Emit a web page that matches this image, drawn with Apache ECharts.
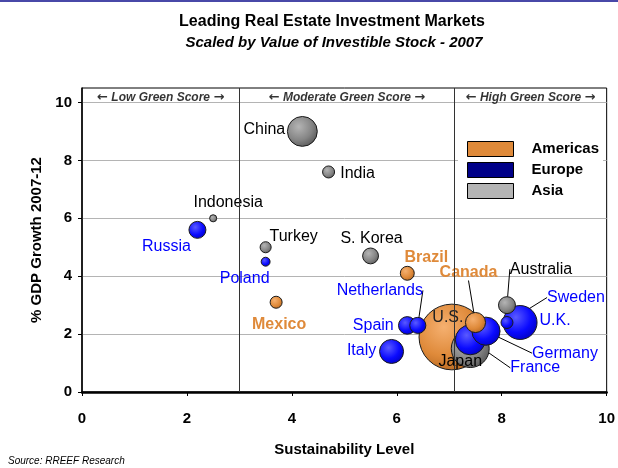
<!DOCTYPE html>
<html lang="en">
<head>
    <meta charset="UTF-8" />
    <title>Leading Real Estate Investment Markets</title>
    <script src="https://cdn.jsdelivr.net/npm/echarts@6/dist/echarts.min.js"></script>
    <style>
        body { margin: 0; background: #fff; }
        #chart { width: 618px; height: 468px; }
    </style>
</head>
<body>
    <div id="chart"></div>
    <script>
        // data
        const countries = ['U.S.', 'Canada', 'Brazil', 'Mexico', 'U.K.', 'Germany', 'France', 'Italy', 'Spain',
            'Netherlands', 'Sweden', 'Russia', 'Poland', 'Japan', 'China', 'Australia', 'S. Korea', 'India',
            'Turkey', 'Indonesia'];
        const regions = ['Americas', 'Americas', 'Americas', 'Americas', 'Europe', 'Europe', 'Europe', 'Europe',
            'Europe', 'Europe', 'Europe', 'Europe', 'Europe', 'Asia', 'Asia', 'Asia', 'Asia', 'Asia', 'Asia', 'Asia'];
        const sustainability = [7.05, 7.5, 6.2, 3.7, 8.35, 7.7, 7.4, 5.9, 6.2, 6.4, 8.1, 2.2, 3.5, 7.4, 4.2, 8.1, 5.5, 4.7, 3.5, 2.5];
        const gdpGrowth = [1.9, 2.4, 4.1, 3.1, 2.4, 2.1, 1.8, 1.4, 2.3, 2.3, 2.4, 5.6, 4.5, 1.5, 9.0, 3.0, 4.7, 7.6, 5.0, 6.0];
        const stockValue = [3000, 280, 135, 100, 800, 550, 620, 400, 215, 180, 100, 200, 55, 1000, 620, 200, 175, 100, 85, 35];

        const legendNames = ['Americas', 'Europe', 'Asia'];
        const zoneBounds = [0, 3, 7.1, 10];
        const zoneNames = ['Low Green Score', 'Moderate Green Score', 'High Green Score'];
        const xTicks = [0, 2, 4, 6, 8, 10];
        const yTicks = [0, 2, 4, 6, 8, 10];

        // styling
        const font = 'Liberation Sans, Arial, sans-serif';
        const regionStyle = {
            Americas: { stops: ['#f5b070', '#df8a3a', '#b46620'], swatch: '#df8a3a', label: '#df8a3a', bold: true },
            Europe: { stops: ['#5a5aff', '#0a0aff', '#0000c0'], swatch: '#000088', label: '#0000ff', bold: false },
            Asia: { stops: ['#b4b4b4', '#858585', '#555555'], swatch: '#b4b4b4', label: '#000', bold: false }
        };
        // label offsets from bubble centre (px), and which ones get a leader line
        const labelPlace = {
            'China': [-38, -2], 'India': [29, 2], 'Indonesia': [15, -16], 'Russia': [-31, 17],
            'Turkey': [28, -11], 'Poland': [-21, 17], 'Mexico': [3, 22], 'S. Korea': [1, -17],
            'Brazil': [19, -16], 'Netherlands': [-38, -35], 'Spain': [-34, 0], 'Italy': [-30, -1],
            'U.S.': [-4, -19], 'Canada': [-7, -50], 'Japan': [-10, 13], 'France': [65, 28],
            'Germany': [79, 22], 'U.K.': [35, -2], 'Sweden': [69, -25], 'Australia': [34, -36]
        };
        const leaders = ['Netherlands', 'Canada', 'France', 'Germany', 'Sweden', 'Australia'];

        const bubbleSize = v => 1.2 * Math.sqrt(v);

        // biggest first so the small ones sit on top
        const order = countries.map((c, i) => i).sort((a, b) => stockValue[b] - stockValue[a]);

        const bubbleSeries = order.map(i => {
            const name = countries[i];
            const st = regionStyle[regions[i]];
            const off = labelPlace[name];
            const usLike = name === 'U.S.';
            return {
                name: regions[i],
                type: 'scatter',
                data: [[sustainability[i], gdpGrowth[i], stockValue[i], name]],
                symbolSize: d => bubbleSize(d[2]),
                itemStyle: {
                    color: {
                        type: 'radial', x: 0.38, y: 0.35, r: 0.72,
                        colorStops: [
                            { offset: 0, color: st.stops[0] },
                            { offset: 0.6, color: st.stops[1] },
                            { offset: 1, color: st.stops[2] }
                        ]
                    },
                    borderColor: '#1a1a1a',
                    borderWidth: 1,
                    opacity: 1
                },
                label: {
                    show: true,
                    position: 'inside',
                    formatter: name,
                    fontFamily: font,
                    fontSize: 16,
                    fontWeight: (st.bold && !usLike) ? 'bold' : 'normal',
                    color: usLike ? '#222' : st.label,
                    textBorderWidth: 0
                },
                labelLayout: { dx: off[0], dy: off[1] },
                labelLine: {
                    show: leaders.includes(name),
                    lineStyle: { color: '#000', width: 1 }
                },
                emphasis: { disabled: true }
            };
        });

        const zoneSeries = {
            name: 'zones',
            type: 'scatter',
            silent: true,
            symbolSize: 0,
            data: zoneNames.map((z, i) => [(zoneBounds[i] + zoneBounds[i + 1]) / 2, 10.18, z]),
            label: {
                show: true,
                position: 'inside',
                formatter: p => '{a|\u2190} ' + p.data[2] + ' {a|\u2192}',
                fontFamily: font,
                fontSize: 12,
                fontWeight: 'bold',
                fontStyle: 'italic',
                color: '#000',
                rich: {
                    a: { fontFamily: 'DejaVu Sans', fontSize: 13, fontWeight: 'bold', color: '#000' }
                }
            },
            markLine: {
                silent: true,
                symbol: 'none',
                label: { show: false },
                lineStyle: { color: '#333', width: 1, type: 'solid' },
                data: zoneBounds.slice(1, -1).map(b => ({ xAxis: b }))
            },
            z: 1
        };

        const chart = echarts.init(document.getElementById('chart'));
        chart.setOption({
            animation: false,
            backgroundColor: '#fff',
            title: [
                {
                    text: 'Leading Real Estate Investment Markets',
                    left: 327, top: 9, textAlign: 'center',
                    textStyle: { fontFamily: font, fontSize: 16, fontWeight: 'bold', color: '#000' }
                },
                {
                    text: 'Scaled by Value of Investible Stock - 2007',
                    left: 329, top: 30, textAlign: 'center',
                    textStyle: { fontFamily: font, fontSize: 15, fontWeight: 'bold', fontStyle: 'italic', color: '#000' }
                }
            ],
            graphic: [
                { type: 'rect', left: 0, top: 0, shape: { width: 618, height: 2 }, style: { fill: '#4848a8' } },
                {
                    type: 'text', left: 8, top: 456,
                    style: { text: 'Source: RREEF Research', font: 'italic 10px ' + font, fill: '#000' }
                }
            ],
            legend: {
                data: legendNames.map(n => ({
                    name: n,
                    itemStyle: { color: regionStyle[n].swatch, borderColor: '#000', borderWidth: 1 }
                })),
                orient: 'vertical',
                left: 458, top: 133,
                padding: [8, 4, 8, 9],
                backgroundColor: '#fff',
                icon: 'rect',
                itemWidth: 46, itemHeight: 15, itemGap: 5,
                selectedMode: false,
                textStyle: { fontFamily: font, fontSize: 15, fontWeight: 'bold', color: '#000', padding: [0, 0, 0, 13] }
            },
            grid: {
                left: 82, right: 11, top: 88, bottom: 76,
                show: true, borderColor: '#000', borderWidth: 1
            },
            xAxis: {
                type: 'value', min: 0, max: 10, interval: 2,
                name: 'Sustainability Level', nameLocation: 'middle', nameGap: 50,
                nameTextStyle: { fontFamily: font, fontSize: 15, fontWeight: 'bold', color: '#000' },
                axisLine: { lineStyle: { color: '#000', width: 2.5 } },
                axisTick: { show: true, length: 4, lineStyle: { color: '#000' }, customValues: xTicks },
                axisLabel: { margin: 19, fontFamily: font, fontSize: 15, fontWeight: 'bold', color: '#000', customValues: xTicks },
                splitLine: { show: false }
            },
            yAxis: {
                type: 'value', min: 0, max: 10.5, interval: 2,
                name: '% GDP Growth 2007-12', nameLocation: 'middle', nameGap: 31, nameRotate: 90,
                nameTextStyle: { fontFamily: font, fontSize: 15, fontWeight: 'bold', color: '#000' },
                axisLine: { show: true, lineStyle: { color: '#000', width: 1.5 } },
                axisTick: { show: true, length: 4, lineStyle: { color: '#000' }, customValues: yTicks },
                axisLabel: {
                    margin: 10, fontFamily: font, fontSize: 15, fontWeight: 'bold', color: '#000',
                    customValues: yTicks,
                    formatter: v => (v % 2 === 0 ? v : '')
                },
                splitLine: { show: true, lineStyle: { color: '#b4b4b4', width: 1 } }
            },
            series: [zoneSeries].concat(bubbleSeries)
        });
    </script>
</body>
</html>
